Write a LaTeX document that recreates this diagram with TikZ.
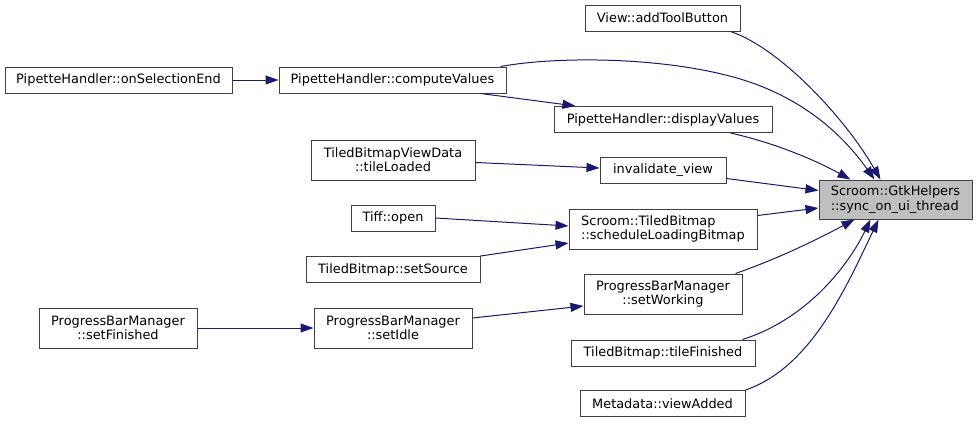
\documentclass[tikz,border=0pt]{standalone}
\usepackage{fontspec}
\setmainfont{DejaVu Sans}
\usetikzlibrary{arrows.meta,calc}
\definecolor{edgeblue}{HTML}{191970}
\definecolor{boxline}{HTML}{404040}
\definecolor{hifill}{HTML}{BFBFBF}
\tikzset{
  fn/.style={draw=boxline, line width=1pt, fill=white, inner sep=0pt, text=black,
    font=\fontsize{12.9}{14.3}\selectfont},
  cur/.style={fn, fill=hifill},
  call/.style={draw=edgeblue, line width=1pt, -{Triangle[length=13pt,width=9pt]}, color=edgeblue},
}
\begin{document}
\begin{tikzpicture}[x=1pt,y=-1pt]
\useasboundingbox (0,0) rectangle (977,423);
% nodes
\node[cur, minimum width=153pt, minimum height=39pt, align=left] (tgt) at (895.5,199.5) {Scroom::GtkHelpers\\::sync\_on\_ui\_thread};
\node[fn, minimum width=155pt, minimum height=26pt] (add) at (662.5,18) {View::addToolButton};
\node[fn, minimum width=227pt, minimum height=26pt] (comp) at (392.5,80) {PipetteHandler::computeValues};
\node[fn, minimum width=227pt, minimum height=26pt] (sel) at (118.5,80) {PipetteHandler::onSelectionEnd};
\node[fn, minimum width=218pt, minimum height=26pt] (disp) at (663,119.5) {PipetteHandler::displayValues};
\node[fn, minimum width=126pt, minimum height=26pt] (inv) at (663,170) {invalidate\_view};
\node[fn, minimum width=164pt, minimum height=40pt, align=center] (tl) at (393,160) {TiledBitmapViewData\\::tileLoaded};
\node[fn, minimum width=84pt, minimum height=26pt] (tiff) at (393,218) {Tiff::open};
\node[fn, minimum width=174pt, minimum height=26pt] (src) at (393,269.5) {TiledBitmap::setSource};
\node[fn, minimum width=188pt, minimum height=40pt, align=left] (sched) at (663,229) {Scroom::TiledBitmap\\::scheduleLoadingBitmap};
\node[fn, minimum width=158pt, minimum height=40pt, align=center] (work) at (663,294) {ProgressBarManager\\::setWorking};
\node[fn, minimum width=158pt, minimum height=40pt, align=center] (idle) at (393,328) {ProgressBarManager\\::setIdle};
\node[fn, minimum width=158pt, minimum height=40pt, align=center] (fin) at (118,328) {ProgressBarManager\\::setFinished};
\node[fn, minimum width=184pt, minimum height=26pt] (tf) at (663,353) {TiledBitmap::tileFinished};
\node[fn, minimum width=165pt, minimum height=26pt] (va) at (662.5,403.5) {Metadata::viewAdded};
% edges
\draw[call] ($(add.south east)+(-10,0)$) .. controls (780,48) and (845,118) .. ($(tgt.north west)+(62,0)$);
\draw[call] ($(comp.north east)+(-6,0)$) .. controls (570,54) and (700,58) .. (770,90) .. controls (820,112) and (850,145) .. ($(tgt.north west)+(56,0)$);
\draw[call] ($(comp.south east)+(-26,0)$) -- ($(disp.north west)+(22,0)$);
\draw[call] ($(disp.south east)+(-42,0)$) .. controls (775,143) and (815,160) .. ($(tgt.north west)+(32,0)$);
\draw[call] (sel.east) -- (comp.west);
\draw[call] ($(inv.south east)+(0,-5)$) -- ($(tgt.west)+(0,-9)$);
\draw[call] ($(tl.east)+(0,2.5)$) -- ($(inv.west)+(0,-2)$);
\draw[call] ($(sched.north east)+(0,7)$) -- ($(tgt.west)+(0,8.5)$);
\draw[call] (tiff.east) -- ($(sched.west)+(0,-3)$);
\draw[call] ($(src.north east)+(0,0)$) -- ($(sched.west)+(0,14)$);
\draw[call] ($(work.north east)+(-7,0)$) .. controls (780,258) and (820,238) .. ($(tgt.south west)+(36,0)$);
\draw[call] ($(idle.east)+(0,-10)$) -- ($(work.west)+(0,12)$);
\draw[call] (fin.east) -- (idle.west);
\draw[call] ($(tf.north east)+(-13,0)$) .. controls (810,318) and (850,262) .. ($(tgt.south west)+(52,0)$);
\draw[call] ($(va.north east)+(0,0)$) .. controls (810,368) and (845,290) .. ($(tgt.south west)+(60,0)$);
\end{tikzpicture}
\end{document}
